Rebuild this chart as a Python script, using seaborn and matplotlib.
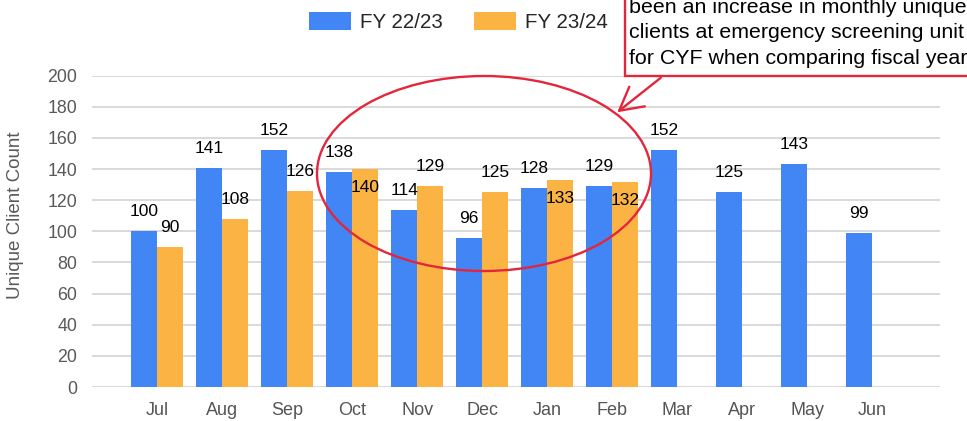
import pandas as pd
import seaborn as sns
import matplotlib.pyplot as plt
from matplotlib import font_manager
from matplotlib.patches import Ellipse, Rectangle, FancyArrowPatch

# Datos
meses = ['Jul', 'Aug', 'Sep', 'Oct', 'Nov', 'Dec', 'Jan', 'Feb', 'Mar', 'Apr', 'May', 'Jun']
fy_22_23 = [100, 141, 152, 138, 114, 96, 128, 129, 152, 125, 143, 99]
fy_23_24 = [90, 108, 126, 140, 129, 125, 133, 132, None, None, None, None]
series = ['FY 22/23', 'FY 23/24']
# etiquetas de FY 23/24 que van dentro de la barra
dentro = ['Oct', 'Jan', 'Feb']
nota = ['been an increase in monthly unique',
        'clients at emergency screening unit',
        'for CYF when comparing fiscal year']

colores = {'FY 22/23': '#4285F4', 'FY 23/24': '#FBB443'}
rojo = '#E3263C'

df = pd.DataFrame({
    'mes': meses * 2,
    'serie': [series[0]] * 12 + [series[1]] * 12,
    'valor': fy_22_23 + fy_23_24,
}).dropna()

sns.set_style('white')
plt.rcParams['font.family'] = ['Liberation Sans', 'DejaVu Sans']

W, H = 967, 421
fig = plt.figure(figsize=(W / 100, H / 100), dpi=100)
ax = fig.add_axes([92 / W, (H - 387) / H, 848 / W, 311.3 / H])

sns.barplot(data=df, x='mes', y='valor', hue='serie', order=meses,
            hue_order=series, palette=colores, width=0.8, ax=ax,
            saturation=1, edgecolor='none')

ax.set_ylim(0, 200)
ax.set_xlim(-1.0, 12.04)
ax.set_yticks(range(0, 201, 20))
ax.yaxis.grid(True, color='#d9d9d9', lw=1.4)
ax.set_axisbelow(True)
sns.despine(ax=ax, left=True, bottom=True)
ax.tick_params(axis='both', length=0)
ax.tick_params(axis='y', pad=10.5, labelsize=12.8, labelcolor='#595959')

# fuente estrecha para los meses si existe
nombres = {f.name for f in font_manager.fontManager.ttflist}
if 'Liberation Sans Narrow' in nombres:
    ax.tick_params(axis='x', pad=11, labelsize=14, labelcolor='#555555')
    for t in ax.get_xticklabels():
        t.set_family('Liberation Sans Narrow')
else:
    ax.tick_params(axis='x', pad=10.5, labelsize=13, labelcolor='#555555')

ax.set_xlabel('')
ax.set_ylabel('Unique Client Count', fontsize=13.5, color='#595959')
ax.yaxis.set_label_coords((16 - 92) / 848, (387 - 215) / 311.3)
ax.yaxis.label.set_va('center')

# Etiquetas de valores
for cont, serie in zip(ax.containers, series):
    for bar, mes in zip(cont, meses):
        h = bar.get_height()
        if pd.isna(h) or h == 0:
            continue
        off = -16.6 if (serie == 'FY 23/24' and mes in dentro) else 10.8
        ax.annotate(f'{int(h)}', (bar.get_x() + bar.get_width() / 2, h),
                    xytext=(0, off), textcoords='offset points',
                    ha='center', va='baseline', fontsize=12.5, color='black')

# Leyenda
handles, labels = ax.get_legend_handles_labels()
ax.legend(handles, labels, loc='center', ncol=2, frameon=False,
          bbox_to_anchor=(458.5 / W, 1 - 22 / H), bbox_transform=fig.transFigure,
          fontsize=14.8, handlelength=2.05, handleheight=0.95, handletextpad=0.45,
          columnspacing=1.5, borderpad=0)

# Elipse roja
fig.add_artist(Ellipse((484 / W, 1 - 173.5 / H), 334 / W, 195 / H,
                       transform=fig.transFigure, fill=False, edgecolor=rojo, lw=1.7))

# Cuadro de texto
fig.add_artist(Rectangle((625 / W, 1 - 76 / H), 0.5, 0.5, transform=fig.transFigure,
                         facecolor='white', edgecolor=rojo, lw=1.7))
for i, linea in enumerate(nota):
    fig.text(629 / W, 1 - (13 + 25.3 * i) / H, linea, fontsize=15.4,
             va='baseline', ha='left', color='black')

# Flecha
fig.add_artist(FancyArrowPatch((663 / W, 1 - 76 / H), (615 / W, 1 - 114 / H),
                               transform=fig.transFigure,
                               arrowstyle='->,head_length=11,head_width=6',
                               color=rojo, lw=1.7, mutation_scale=1.5))

fig.savefig('out.png', dpi=100)
